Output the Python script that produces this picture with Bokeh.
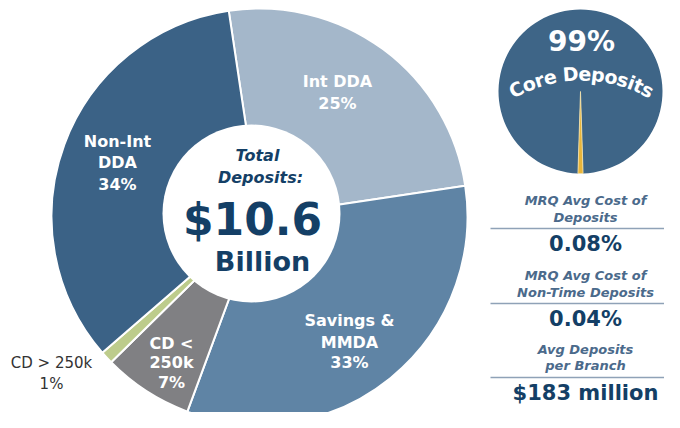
import math
from bokeh.plotting import figure
from bokeh.models import Range1d, ColumnDataSource
from bokeh.core.properties import value
from bokeh.embed import file_html
from bokeh.resources import INLINE

# ---------------- data ----------------
categories = ["Int DDA", "Savings & MMDA", "CD < 250k", "CD > 250k", "Non-Int DDA"]
shares = [25, 33, 7, 1, 34]
slice_colors = ["#A4B7CA", "#5F84A5", "#808083", "#BDCC8C", "#3B6286"]
label_lines = [["Int DDA", "25%"], ["Savings &", "MMDA", "33%"], ["CD <", "250k", "7%"],
               ["CD > 250k", "1%"], ["Non-Int", "DDA", "34%"]]
core_labels = ["Core", "Non-core"]
core_shares = [99, 1]
core_colors = ["#3E6587", "#E8B53A"]
total_title = ["Total", "Deposits:"]
total_value = "$10.6"
total_unit = "Billion"
metric_titles = [["MRQ Avg Cost of", "Deposits"], ["MRQ Avg Cost of", "Non-Time Deposits"],
                 ["Avg Deposits", "per Branch"]]
metric_values = ["0.08%", "0.04%", "$183 million"]

FONT = "DejaVu Sans"
NAVY = "#143F66"
MUTED = "#4B6A8B"

p = figure(width=664, height=412, output_backend="svg", toolbar_location=None,
           x_range=Range1d(0, 664), y_range=Range1d(-412, 0), min_border=0)
p.axis.visible = False
p.grid.visible = False
p.outline_line_color = None
p.background_fill_color = "white"


def Y(py):
    return -py


def text(x, py, s, size, color, style="bold", align="center"):
    p.text(x=[x], y=[Y(py)], text=[s], text_font=value(FONT), text_font_size=f"{size}px",
           text_font_style=style, text_color=color, text_align=align, text_baseline="middle")


# ---------------- main donut ----------------
cx, cy, R = 259, 216, 208
offset = -8.5  # degrees clockwise from 12 o'clock where first slice starts
tot = sum(shares)
starts, ends = [], []
c = offset
for s in shares:
    a0 = c
    a1 = c + 360.0 * s / tot
    starts.append(math.radians(90 - a0))
    ends.append(math.radians(90 - a1))
    c = a1
src = ColumnDataSource(dict(cat=categories, start=starts, end=ends, color=slice_colors))
p.wedge(x=cx, y=Y(cy), radius=R, start_angle="start", end_angle="end", direction="clock",
        fill_color="color", line_color="white", line_width=2, source=src)

# white center
p.circle(x=[251], y=[Y(213)], radius=89, fill_color="white", line_color=None)

# slice labels
label_pos = [(337, [81, 103]), (349, [320, 342, 362]), (171, [343, 362, 382]),
             (51, [362, 383]), (117, [141, 162, 184])]
for i, (lx, ys) in enumerate(label_pos):
    for s, py in zip(label_lines[i], ys):
        if categories[i] == "CD > 250k":
            text(lx, py, s, 15, "#333333", style="normal")
        else:
            text(lx, py, s, 16, "white")

# center texts
text(257, 155, total_title[0], 16, NAVY, style="bold italic")
text(260, 177, total_title[1], 16, NAVY, style="bold italic")
text(252, 219, total_value, 44, NAVY)
text(262, 261, total_unit, 27, NAVY)

# ---------------- small core-deposit pie ----------------
scx, scy, sR = 580, 91, 82
c = 180 - 360.0 * core_shares[1] / sum(core_shares) / 2 + 360.0 * core_shares[1] / sum(core_shares)
sst, sen = [], []
for s in core_shares:
    a0 = c
    a1 = c + 360.0 * s / sum(core_shares)
    sst.append(math.radians(90 - a0))
    sen.append(math.radians(90 - a1))
    c = a1
p.wedge(x=scx, y=Y(scy), radius=sR, start_angle=sst, end_angle=sen, direction="clock",
        fill_color=core_colors, line_color=[None, "#F4E3B0"], line_width=0.8)

text(581, 41, f"{core_shares[0]}%", 28, "white")

# curved "Core Deposits"
widths = {"C": 734, "o": 687, "r": 493, "e": 678, " ": 348, "D": 830, "p": 716,
          "s": 595, "i": 343, "t": 478}
word = "Core Deposits"
fs = 19
acx, acy, aR = 581, 215, 142
W = sum(widths[ch] for ch in word) * fs / 1000.0
cum = 0.0
for ch in word:
    w = widths[ch] * fs / 1000.0
    sarc = cum + w / 2 - W / 2
    cum += w
    if ch == " ":
        continue
    phi = sarc / aR
    x = acx + aR * math.sin(phi)
    py = acy - aR * math.cos(phi)
    p.text(x=[x], y=[Y(py)], text=[ch], angle=-phi, text_font=value(FONT),
           text_font_size=f"{fs}px", text_font_style="bold", text_color="white",
           text_align="center", text_baseline="middle")

# ---------------- metrics ----------------
mx = 585
title_y = [(200, 217), (275, 292), (349, 365)]
rule_y = [228, 303, 377]
val_y = [243, 318, 392]
for i in range(3):
    for s, py in zip(metric_titles[i], title_y[i]):
        text(mx, py, s, 13, MUTED, style="bold italic")
    p.segment(x0=[490], y0=[Y(rule_y[i])], x1=[680], y1=[Y(rule_y[i])],
              line_color="#8FA2B7", line_width=1.6)
    text(mx, val_y[i], metric_values[i], 21, NAVY)

open("out.html", "w").write(file_html(p, INLINE))
